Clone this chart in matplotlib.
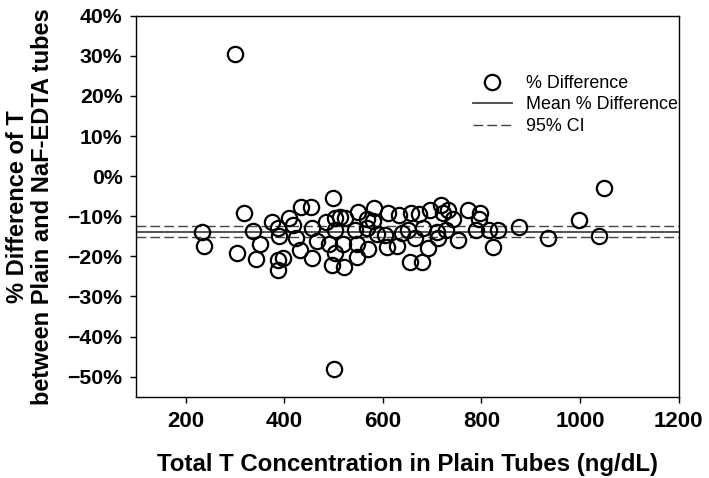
import matplotlib
matplotlib.use("Agg")
from matplotlib import pyplot as plt
from matplotlib.ticker import FuncFormatter

# total T in plain tubes (ng/dL) and % difference (plain vs NaF-EDTA)
conc = [232, 237, 300, 305, 319, 337, 351, 342, 375, 388,
        389, 388, 398, 388, 409, 418, 423, 432, 433, 455,
        457, 457, 466, 484, 490, 498, 503, 514, 502, 503,
        497, 500, 521, 520, 523, 543, 547, 547, 549, 567,
        570, 568, 583, 581, 588, 604, 610, 608, 628, 632,
        638, 652, 658, 665, 656, 679, 674, 682, 692, 696,
        709, 712, 719, 722, 729, 733, 742, 753, 773, 798,
        796, 790, 815, 834, 824, 877, 935, 998, 1039, 1049]
pct_diff = [-13.9, -17.4, 30.5, -19.1, -9.3, -13.6, -17.0, -20.7, -11.5, -13.0,
            -15.0, -21.0, -20.5, -23.3, -10.5, -12.1, -15.4, -18.3, -7.8, -7.7,
            -12.9, -20.5, -16.2, -11.4, -16.9, -5.5, -10.5, -10.3, -13.5, -19.1,
            -22.2, -48.0, -22.7, -16.8, -10.5, -13.5, -17.0, -20.2, -8.9, -13.0,
            -18.2, -10.8, -7.9, -11.3, -14.5, -14.7, -9.2, -17.7, -17.5, -9.7,
            -14.1, -13.4, -9.3, -15.3, -21.5, -21.3, -9.5, -12.9, -17.9, -8.5,
            -13.9, -15.3, -7.2, -9.3, -13.4, -8.5, -10.7, -16.0, -8.4, -9.1,
            -10.7, -13.4, -13.3, -13.5, -17.6, -12.7, -15.5, -10.9, -14.9, -3.0]

mean_diff = -13.8
ci_low, ci_high = -15.2, -12.4

plt.rcParams['font.family'] = ['Liberation Sans', 'DejaVu Sans']

fig = plt.figure(figsize=(7.09, 4.78), dpi=100)
ax = fig.add_axes([0.1925, 0.17, 0.7645, 0.797])

ax.plot(conc, pct_diff, 'o', ms=11, mfc='none', mec='black', mew=1.6,
        label='% Difference', zorder=3)
ax.axhline(mean_diff, color='#444444', lw=1.3, label='Mean % Difference')
ax.axhline(ci_high, color='#444444', lw=1.0, dashes=(7, 3), label='95% CI')
ax.axhline(ci_low, color='#444444', lw=1.0, dashes=(7, 3))

ax.set_xlim(100, 1200)
ax.set_ylim(-55, 40)
ax.set_xticks(range(200, 1201, 200))
ax.set_yticks(range(-50, 41, 10))
ax.yaxis.set_major_formatter(FuncFormatter(lambda v, p: f"{int(v)}%".replace('-', '\u2212')))

ax.tick_params(direction='out', length=4, width=1, pad=6)
ax.tick_params(axis='x', labelsize=16)
ax.tick_params(axis='y', labelsize=15.3)
for lbl in ax.get_xticklabels() + ax.get_yticklabels():
    lbl.set_fontweight('bold')
for s in ax.spines.values():
    s.set_linewidth(1.0)

ax.set_xlabel('Total T Concentration in Plain Tubes (ng/dL)', fontsize=17.3, fontweight='bold')
ax.set_ylabel('% Difference of T\nbetween Plain and NaF-EDTA tubes', fontsize=17,
              fontweight='bold', linespacing=1.1)
ax.xaxis.set_label_coords(0.5, -0.148)
ax.yaxis.set_label_coords(-0.153, 0.5)

ax.legend(loc='upper left', bbox_to_anchor=(0.62, 0.845), frameon=False,
          fontsize=12.9, handlelength=2.2, handletextpad=0.8, labelspacing=0.25,
          borderpad=0, borderaxespad=0)

fig.savefig('out.png', dpi=100)
